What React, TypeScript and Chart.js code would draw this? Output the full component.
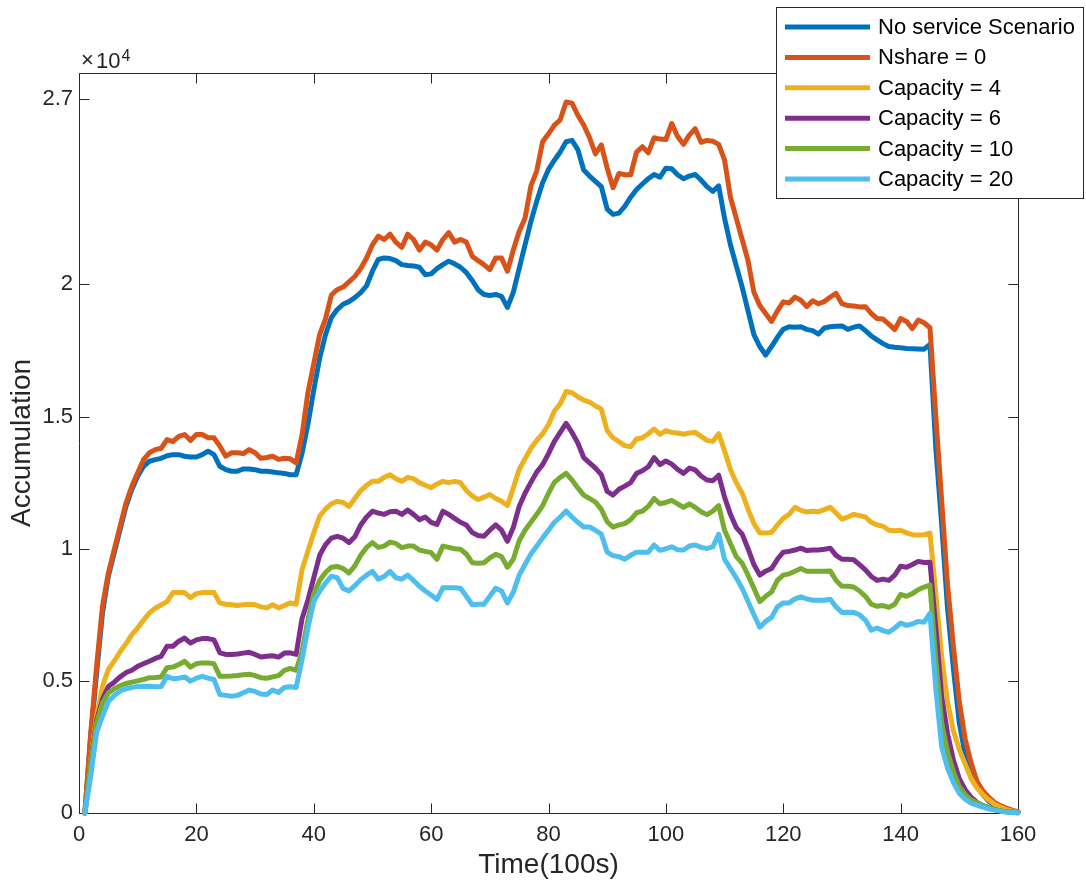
import React, { useEffect, useRef } from "react";
import { Chart, registerables } from "chart.js";

Chart.register(...registerables);

const FONT = '"Liberation Sans", Arial, Helvetica, sans-serif';

const time = [
  1, 2, 3, 4, 5, 6, 7, 8, 9, 10, 11, 12, 13, 14, 15, 16, 17, 18, 19, 20,
  21, 22, 23, 24, 25, 26, 27, 28, 29, 30, 31, 32, 33, 34, 35, 36, 37, 38, 39, 40,
  41, 42, 43, 44, 45, 46, 47, 48, 49, 50, 51, 52, 53, 54, 55, 56, 57, 58, 59, 60,
  61, 62, 63, 64, 65, 66, 67, 68, 69, 70, 71, 72, 73, 74, 75, 76, 77, 78, 79, 80,
  81, 82, 83, 84, 85, 86, 87, 88, 89, 90, 91, 92, 93, 94, 95, 96, 97, 98, 99, 100,
  101, 102, 103, 104, 105, 106, 107, 108, 109, 110, 111, 112, 113, 114, 115, 116, 117, 118, 119, 120,
  121, 122, 123, 124, 125, 126, 127, 128, 129, 130, 131, 132, 133, 134, 135, 136, 137, 138, 139, 140,
  141, 142, 143, 144, 145, 146, 147, 148, 149, 150, 151, 152, 153, 154, 155, 156, 157, 158, 159, 160,
];

const noService = [
  0, 2900, 5300, 7570, 8960, 9840, 10720, 11600, 12240, 12740,
  13120, 13310, 13370, 13420, 13520, 13560, 13560, 13500, 13470, 13470,
  13560, 13690, 13560, 13120, 12990, 12930, 12930, 13020, 13020, 12990,
  12930, 12930, 12900, 12870, 12850, 12800, 12800, 13600, 14700, 16000,
  17200, 18100, 18750, 19050, 19250, 19350, 19500, 19690, 19950, 20500,
  20950, 21000, 20980, 20900, 20750, 20720, 20700, 20650, 20370, 20400,
  20600, 20750, 20880, 20780, 20650, 20450, 20150, 19800, 19620, 19580,
  19620, 19550, 19130, 19700, 20600, 21500, 22380, 23150, 23850, 24350,
  24700, 25010, 25400, 25450, 25100, 24330, 24100, 23900, 23700, 22850,
  22650, 22700, 22950, 23300, 23590, 23800, 24000, 24160, 24060, 24400,
  24380, 24150, 24000, 24100, 24160, 23950, 23700, 23520, 23730, 22500,
  21500, 20700, 19900, 19000, 18100, 17650, 17330, 17650, 18000, 18300,
  18400, 18380, 18400, 18300, 18250, 18120, 18350, 18400, 18420, 18430,
  18300, 18380, 18430, 18250, 18050, 17900, 17760, 17650, 17620, 17600,
  17580, 17570, 17560, 17550, 17730, 13800, 10900, 7730, 5450, 3400,
  2200, 1500, 1000, 700, 450, 300, 200, 120, 60, 30,
];

const nshare0 = [
  0, 3030, 5550, 7820, 9080, 9970, 10850, 11730, 12360, 12870,
  13370, 13630, 13750, 13800, 14130, 14050, 14250, 14320, 14100, 14320,
  14320, 14200, 14200, 13880, 13500, 13630, 13630, 13600, 13750, 13630,
  13420, 13450, 13500, 13380, 13420, 13400, 13250, 14300, 15900, 17000,
  18100, 18700, 19600, 19800, 19900, 20100, 20300, 20600, 21000, 21500,
  21830, 21700, 21900, 21600, 21400, 21900, 21700, 21300, 21600, 21500,
  21300, 21700, 21960, 21600, 21700, 21600, 21070, 20900, 20750, 20560,
  21000, 21000, 20500, 21300, 22000, 22500, 23730, 24300, 25400, 25700,
  26030, 26230, 26900, 26860, 26400, 26030, 25550, 24940, 25280, 24400,
  23660, 24200, 24150, 24150, 25010, 25210, 24980, 25550, 25500, 25480,
  26090, 25600, 25300, 25650, 25890, 25380, 25450, 25420, 25300, 24700,
  23300, 22500, 21700, 20900, 19700, 19200, 18900, 18600, 19000, 19340,
  19300, 19520, 19400, 19160, 19380, 19270, 19350, 19520, 19660, 19270,
  19200, 19180, 19150, 19160, 18900, 18710, 18690, 18500, 18290, 18710,
  18600, 18330, 18650, 18550, 18360, 15000, 11800, 8620, 6300, 4200,
  2800, 1900, 1200, 850, 600, 400, 280, 190, 110, 50,
];

const capacity4 = [
  0, 2000, 3660, 4800, 5430, 5750, 6100, 6400, 6750, 7000,
  7300, 7570, 7750, 7870, 8000, 8340, 8340, 8340, 8150, 8300,
  8340, 8340, 8340, 7950, 7900, 7880, 7850, 7880, 7900, 7880,
  7800, 7760, 7880, 7760, 7850, 7950, 7900, 9200, 9900, 10600,
  11230, 11500, 11700, 11790, 11750, 11600, 11900, 12200, 12400, 12550,
  12550, 12700, 12800, 12650, 12550, 12700, 12650, 12500, 12400, 12310,
  12450, 12550, 12500, 12550, 12500, 12200, 12000, 11860, 11950, 12050,
  11900, 11800, 11630, 12300, 13000, 13400, 13800, 14100, 14350, 14700,
  15210, 15480, 15950, 15900, 15750, 15620, 15550, 15400, 15280, 14470,
  14200, 14050, 13900, 13860, 14150, 14200, 14350, 14530, 14330, 14470,
  14400, 14380, 14330, 14380, 14400, 14250, 14100, 14060, 14350, 13700,
  13000, 12500, 12100, 11500, 10950, 10600, 10590, 10620, 10900, 11150,
  11300, 11570, 11450, 11390, 11420, 11400, 11480, 11570, 11350, 11120,
  11200, 11300, 11250, 11200, 11000, 10900, 10850, 10700, 10680, 10700,
  10600, 10530, 10520, 10530, 10590, 8300, 5900, 4200, 3100, 2400,
  1850, 1300, 950, 700, 500, 330, 220, 130, 70, 20,
];

const capacity6 = [
  0, 1900, 3500, 4300, 4790, 4950, 5150, 5310, 5400, 5550,
  5650, 5740, 5850, 5930, 6310, 6310, 6500, 6620, 6430, 6550,
  6600, 6600, 6550, 6060, 6000, 6000, 6020, 6050, 6080, 6000,
  5900, 5930, 5950, 5900, 6050, 6060, 6000, 7350, 8050, 8900,
  9750, 10150, 10400, 10470, 10400, 10230, 10450, 10900, 11200, 11420,
  11350, 11300, 11400, 11420, 11300, 11460, 11300, 11100, 11200, 11000,
  10920, 11420, 11300, 11150, 11000, 10900, 10610, 10500, 10470, 10700,
  10900, 10700, 10280, 10800, 11600, 12100, 12510, 12900, 13180, 13600,
  14060, 14400, 14740, 14400, 14000, 13450, 13250, 13050, 12800, 12170,
  12030, 12250, 12370, 12500, 12850, 12950, 13100, 13450, 13180, 13320,
  13200, 13000, 12850, 13050, 12980, 12750, 12600, 12570, 12780, 11950,
  11300, 10800, 10550, 10000, 9400, 9000, 9150, 9250, 9600, 9870,
  9900, 9950, 10020, 9930, 9950, 9950, 9980, 10020, 9750, 9600,
  9600, 9580, 9400, 9200, 8950, 8800, 8850, 8800, 9000, 9340,
  9300, 9400, 9520, 9480, 9490, 7000, 4400, 3000, 2000, 1300,
  880, 600, 400, 280, 200, 130, 80, 50, 30, 10,
];

const capacity10 = [
  0, 1850, 3400, 4160, 4540, 4700, 4820, 4900, 4950, 5000,
  5050, 5120, 5130, 5150, 5500, 5520, 5620, 5740, 5520, 5650,
  5680, 5680, 5650, 5170, 5170, 5180, 5200, 5230, 5250, 5200,
  5120, 5100, 5150, 5200, 5400, 5470, 5400, 6100, 7300, 8300,
  8800, 9100, 9300, 9330, 9250, 9080, 9350, 9750, 10050, 10230,
  10050, 10100, 10250, 10200, 10040, 10100, 10100, 9950, 9900, 9850,
  9600, 10100, 10050, 10000, 9980, 9800, 9470, 9450, 9470, 9650,
  9790, 9700, 9300, 9600, 10300, 10700, 11000, 11300, 11630, 12100,
  12510, 12700, 12850, 12600, 12300, 12030, 11900, 11760, 11490, 11020,
  10820, 10900, 10950, 11100, 11360, 11420, 11600, 11900, 11700, 11750,
  11830, 11700, 11560, 11700, 11560, 11400, 11290, 11420, 11630, 10700,
  10200, 9700, 9450, 9000, 8500, 8000, 8200, 8360, 8800, 9000,
  9050, 9150, 9250, 9150, 9150, 9150, 9150, 9160, 8800, 8580,
  8580, 8550, 8400, 8200, 7900, 7820, 7850, 7780, 7900, 8270,
  8200, 8300, 8450, 8550, 8620, 5800, 3400, 2300, 1550, 1000,
  700, 500, 380, 270, 190, 130, 80, 50, 30, 10,
];

const capacity20 = [
  0, 1400, 3040, 3660, 4220, 4450, 4620, 4700, 4750, 4790,
  4790, 4800, 4780, 4790, 5170, 5080, 5100, 5150, 4990, 5100,
  5170, 5100, 5050, 4480, 4450, 4420, 4450, 4550, 4650, 4600,
  4500, 4480, 4650, 4560, 4750, 4780, 4750, 5800, 7000, 8000,
  8390, 8700, 8960, 8900, 8500, 8400, 8600, 8830, 9000, 9140,
  8850, 8950, 9140, 8900, 8850, 9000, 8800, 8580, 8400, 8250,
  8080, 8520, 8520, 8520, 8500, 8200, 7880, 7900, 7900, 8200,
  8500, 8400, 7950, 8350, 9000, 9400, 9800, 10100, 10410, 10700,
  11000, 11200, 11430, 11200, 11000, 10820, 10820, 10700, 10550, 9870,
  9740, 9700, 9600, 9750, 9870, 9870, 9870, 10140, 9940, 10000,
  10070, 9960, 9950, 10100, 10140, 10050, 10010, 10070, 10550, 9600,
  9250, 8900, 8500, 8000, 7500, 7030, 7250, 7400, 7800, 7950,
  7950, 8100, 8180, 8100, 8050, 8050, 8050, 8090, 7800, 7590,
  7600, 7590, 7500, 7300, 6920, 7000, 6900, 6840, 7000, 7190,
  7100, 7150, 7250, 7220, 7550, 4700, 2500, 1700, 1150, 750,
  520, 370, 300, 220, 160, 110, 70, 40, 20, 10,
];

const seriesNames = [
  "No service Scenario",
  "Nshare = 0",
  "Capacity = 4",
  "Capacity = 6",
  "Capacity = 10",
  "Capacity = 20",
];
const seriesColors = ["#0072BD", "#D95319", "#EDB120", "#7E2F8E", "#77AC30", "#4DBEEE"];
const seriesValues = [noService, nshare0, capacity4, capacity6, capacity10, capacity20];

const xTicks = [0, 20, 40, 60, 80, 100, 120, 140, 160];
const yTicks = [0, 5000, 10000, 15000, 20000, 27000];
const yTickLabels = ["0", "0.5", "1", "1.5", "2", "2.7"];

const AXIS_COLOR = "#262626";

const matlabPlugin = {
  id: "matlabFrame",
  beforeDatasetsDraw(chart: any) {
    const { ctx, chartArea: a, scales } = chart;
    ctx.save();
    ctx.strokeStyle = AXIS_COLOR;
    ctx.lineWidth = 1;
    const L = Math.round(a.left) + 0.5;
    const R = Math.round(a.right) + 0.5;
    const T = Math.round(a.top) + 0.5;
    const B = Math.round(a.bottom) + 0.5;
    ctx.beginPath();
    ctx.moveTo(L, T);
    ctx.lineTo(R, T);
    ctx.lineTo(R, B);
    ctx.lineTo(L, B);
    ctx.closePath();
    xTicks.forEach((v) => {
      const p = Math.round(scales.x.getPixelForValue(v)) + 0.5;
      ctx.moveTo(p, B);
      ctx.lineTo(p, B - 10);
      ctx.moveTo(p, T);
      ctx.lineTo(p, T + 10);
    });
    yTicks.forEach((v) => {
      const p = Math.round(scales.y.getPixelForValue(v)) + 0.5;
      ctx.moveTo(L, p);
      ctx.lineTo(L + 10, p);
      ctx.moveTo(R, p);
      ctx.lineTo(R - 10, p);
    });
    ctx.stroke();
    ctx.restore();
  },
  afterDraw(chart: any) {
    const { ctx, chartArea: a } = chart;
    ctx.save();
    // exponent label
    ctx.fillStyle = AXIS_COLOR;
    ctx.textBaseline = "alphabetic";
    ctx.textAlign = "left";
    ctx.font = `22px ${FONT}`;
    ctx.fillText("\u00D7", a.left + 2, 67);
    ctx.fillText("10", a.left + 17, 68);
    const w10 = ctx.measureText("10").width;
    ctx.font = `16px ${FONT}`;
    ctx.fillText("4", a.left + 18 + w10, 61);

    // legend
    const lx = 776;
    const ly = 7;
    const lw = 307;
    const lh = 191;
    ctx.fillStyle = "#ffffff";
    ctx.fillRect(lx, ly, lw, lh);
    ctx.strokeStyle = AXIS_COLOR;
    ctx.lineWidth = 1;
    ctx.strokeRect(lx + 0.5, ly + 0.5, lw, lh);
    const rowH = 30.4;
    ctx.font = `22px ${FONT}`;
    ctx.textBaseline = "middle";
    seriesNames.forEach((name, i) => {
      const y = ly + 20 + i * rowH;
      ctx.strokeStyle = seriesColors[i];
      ctx.lineWidth = 5;
      ctx.beginPath();
      ctx.moveTo(lx + 9, y);
      ctx.lineTo(lx + 94, y);
      ctx.stroke();
      ctx.fillStyle = "#000000";
      ctx.fillText(name, lx + 102, y + 1);
    });
    ctx.restore();
  },
};

export default function App() {
  const canvasRef = useRef<HTMLCanvasElement | null>(null);

  useEffect(() => {
    document.body.style.margin = "0";
    const canvas = canvasRef.current;
    if (!canvas) return;
    const datasets = seriesValues.map((vals, i) => ({
      label: seriesNames[i],
      data: vals.map((v, j) => ({ x: time[j], y: v })),
      borderColor: seriesColors[i],
      backgroundColor: seriesColors[i],
      borderWidth: 5,
      pointRadius: 0,
      tension: 0,
      fill: false,
      borderJoinStyle: "round" as const,
      borderCapStyle: "round" as const,
      order: seriesValues.length - i,
      clip: 6,
    }));
    const chart = new Chart(canvas, {
      type: "line",
      data: { datasets },
      options: {
        animation: false,
        responsive: false,
        devicePixelRatio: 1,
        layout: { padding: { top: 73, right: 68, left: 0, bottom: 0 } },
        plugins: {
          legend: { display: false },
          tooltip: { enabled: false },
        },
        scales: {
          x: {
            type: "linear",
            min: 0,
            max: 160,
            afterBuildTicks: (s: any) => {
              s.ticks = xTicks.map((v) => ({ value: v }));
            },
            afterFit: (s: any) => {
              s.height = 70;
            },
            grid: { display: false, drawTicks: false },
            border: { display: false },
            ticks: {
              color: AXIS_COLOR,
              font: { family: FONT, size: 22 },
              padding: 9,
              maxRotation: 0,
              autoSkip: false,
              callback: (v: any) => String(v),
            },
            title: {
              display: true,
              text: "Time(100s)",
              color: AXIS_COLOR,
              font: { family: FONT, size: 28 },
              padding: { top: 0, bottom: 1 },
            },
          },
          y: {
            type: "linear",
            min: 0,
            max: 28000,
            afterBuildTicks: (s: any) => {
              s.ticks = yTicks.map((v) => ({ value: v }));
            },
            afterFit: (s: any) => {
              s.width = 79;
            },
            grid: { display: false, drawTicks: false },
            border: { display: false },
            ticks: {
              color: AXIS_COLOR,
              font: { family: FONT, size: 22 },
              padding: 6,
              autoSkip: false,
              callback: (v: any) => {
                const k = yTicks.indexOf(Number(v));
                return k >= 0 ? yTickLabels[k] : "";
              },
            },
            title: {
              display: true,
              text: "Accumulation",
              color: AXIS_COLOR,
              font: { family: FONT, size: 28 },
              padding: { top: 5, bottom: 0 },
            },
          },
        },
      },
      plugins: [matlabPlugin],
    });
    return () => chart.destroy();
  }, []);

  return (
    <div style={{ width: 1086, height: 883, position: "relative", background: "#fff" }}>
      <canvas ref={canvasRef} width={1086} height={883} style={{ display: "block" }} />
    </div>
  );
}
